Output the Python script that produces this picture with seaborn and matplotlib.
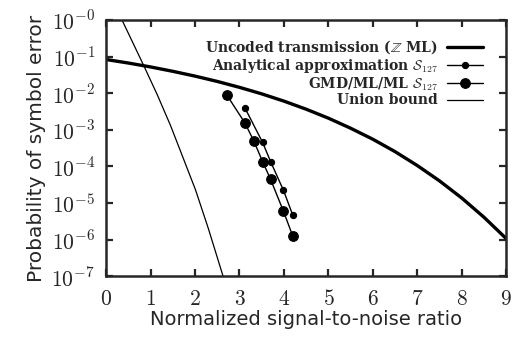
import numpy as np
import pandas as pd
import seaborn as sns
import matplotlib.pyplot as plt

# values
snr_uncoded = [0, 0.5, 1, 1.5, 2, 2.5, 3, 3.5, 4, 4.5, 5, 5.5, 6, 6.5, 7, 7.5, 8, 8.5, 9]
pe_uncoded = [0.083, 0.0665, 0.052, 0.0395, 0.0292, 0.0209, 0.0144, 0.00956, 0.00605,
              0.00364, 0.00207, 0.0011, 5.5e-4, 2.52e-4, 1.05e-4, 4.0e-5, 1.36e-5,
              4.06e-6, 1.06e-6]

snr_analytic = [3.12, 3.52, 3.70, 3.99, 4.20]
pe_analytic = [4.0e-3, 4.5e-4, 1.35e-4, 2.2e-5, 4.6e-6]

snr_gmd = [2.71, 3.12, 3.32, 3.52, 3.70, 3.99, 4.20]
pe_gmd = [9.1e-3, 1.55e-3, 5.0e-4, 1.35e-4, 4.4e-5, 5.9e-6, 1.23e-6]

snr_union = [0.30, 0.84, 1.15, 1.45, 1.75, 2.01, 2.30, 2.62, 2.70]
pe_union = [1.4, 5.9e-2, 9.1e-3, 1.3e-3, 1.5e-4, 2.3e-5, 2.0e-6, 1.1e-7, 5.6e-8]

sns.set_style("ticks")
plt.rcParams['mathtext.fontset'] = 'cm'
plt.rcParams['font.family'] = ['DejaVu Sans']

fig = plt.figure(figsize=(5.15, 3.38), dpi=100)
ax = fig.add_axes([0.206, 0.183, 0.777, 0.758])

df_unc = pd.DataFrame({'snr': snr_uncoded, 'pe': pe_uncoded})
df_ana = pd.DataFrame({'snr': snr_analytic, 'pe': pe_analytic})
df_gmd = pd.DataFrame({'snr': snr_gmd, 'pe': pe_gmd})
df_uni = pd.DataFrame({'snr': snr_union, 'pe': pe_union})

sns.lineplot(data=df_unc, x='snr', y='pe', color='black', lw=2.4, ax=ax,
             label=r'Uncoded transmission ($\mathbb{Z}$ ML)')
sns.lineplot(data=df_ana, x='snr', y='pe', color='black', lw=1.0, marker='o',
             markersize=4.5, markeredgecolor='black', ax=ax,
             label=r'Analytical approximation $\mathcal{S}_{127}$')
sns.lineplot(data=df_gmd, x='snr', y='pe', color='black', lw=1.0, marker='o',
             markersize=7, markeredgecolor='black', ax=ax,
             label=r'GMD/ML/ML $\mathcal{S}_{127}$')
sns.lineplot(data=df_uni, x='snr', y='pe', color='black', lw=0.9, ax=ax,
             label='Union bound')

ax.set_yscale('log')
ax.set_xlim(0, 9)
ax.set_ylim(1e-7, 1)
ax.set_xticks(range(10))
ax.set_xticklabels(['$%d$' % i for i in range(10)])
ax.set_yticks([10.0 ** -k for k in range(8)])
ax.set_yticklabels(['$10^{-%d}$' % k for k in range(8)])
ax.minorticks_off()
ax.tick_params(direction='in', length=5, width=1.6, top=True, right=True,
               labelsize=15.5)
ax.tick_params(axis='x', pad=9)
ax.tick_params(axis='y', pad=8)
for s in ax.spines.values():
    s.set_linewidth(1.8)

ax.set_xlabel('Normalized signal-to-noise ratio', fontsize=14, labelpad=1)
ax.set_ylabel('Probability of symbol error', fontsize=14.5, labelpad=4)

leg = ax.legend(loc='upper right', bbox_to_anchor=(0.955, 0.95), frameon=False,
                markerfirst=False, handlelength=2.6, handletextpad=0.6,
                labelspacing=0.05, borderaxespad=0,
                prop={'family': 'DejaVu Serif', 'weight': 'bold', 'size': 10})

fig.savefig('out.png', dpi=100)
